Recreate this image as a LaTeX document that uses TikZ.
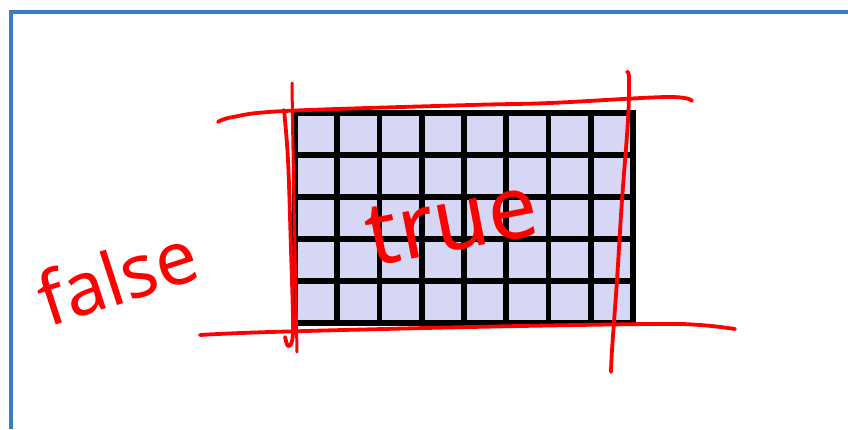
\documentclass[tikz,border=0pt]{standalone}
\usepackage{fontspec}
\setmainfont{Noto Sans}
\definecolor{bord}{HTML}{3A7DC0}
\definecolor{cell}{HTML}{D6D7F4}
\definecolor{pen}{HTML}{FF0000}
\begin{document}
\begin{tikzpicture}[x=1pt,y=-1pt,
  redline/.style={pen, line width=3.8pt, line cap=round, line join=round},
  gridline/.style={black, line width=5.6pt},
  handtext/.style={pen, inner sep=0pt}]
\useasboundingbox (0,0) rectangle (848,429);
% blue frame
\draw[bord, line width=4pt] (10.5,429) -- (10.5,11.5) -- (848,11.5);
% grid
\fill[cell] (295,113) rectangle (633,323);
\foreach \i in {1,...,7} \draw[gridline] ({295+\i*42.25},113) -- ({295+\i*42.25},323);
\foreach \j in {1,...,4} \draw[gridline] (295,{113+\j*42}) -- (633,{113+\j*42});
\draw[gridline] (295,113) rectangle (633,323);
% red hand-drawn lines
\draw[redline] plot[smooth, tension=0.6] coordinates {(218,122) (233,117) (285,111) (470,105) (550,103) (667,97) (692,101)};
\draw[redline] plot[smooth, tension=0.6] coordinates {(200,335) (270,332) (470,327) (650,324) (700,325) (735,329)};
\draw[redline] plot[smooth, tension=0.6] coordinates {(627,72) (629,78) (628,120) (622,200) (617,280) (612,350) (611,372)};
\draw[redline, line width=3pt] plot[smooth, tension=0.6] coordinates {(292,83) (293,150) (295,250) (297,352)};
\draw[redline] plot[smooth, tension=0.6] coordinates {(284,110) (288,160) (291,250) (293,320) (292,341) (288,346) (285,337)};
% labels
\node[handtext, rotate=18, font=\fontsize{74}{74}\selectfont] (false) at (117,276) {false};
\node[handtext, rotate=11, font=\fontsize{88}{88}\selectfont] (true) at (452,222) {true};
\end{tikzpicture}
\end{document}
